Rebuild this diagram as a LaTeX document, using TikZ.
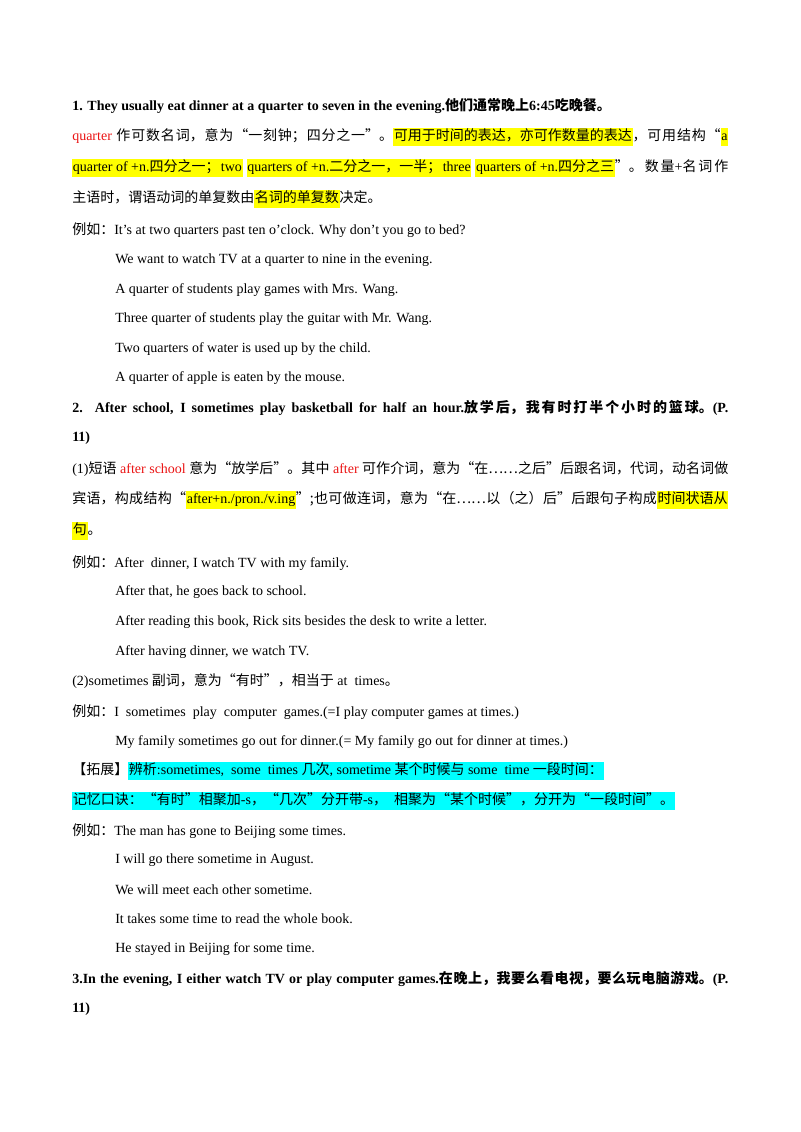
\documentclass[tikz,border=0pt]{standalone}
\usepackage{fontspec}
\usepackage{xcolor}
\setmainfont{Liberation Serif}
\newfontfamily\cjk{Noto Sans CJK SC}
\usetikzlibrary{positioning}
\definecolor{notered}{RGB}{235,20,20}
\definecolor{markyellow}{RGB}{255,255,0}
\definecolor{markcyan}{RGB}{0,255,255}
\XeTeXlinebreaklocale "zh"
\XeTeXlinebreakskip=0pt plus 1pt
\newcommand{\zh}[1]{{\cjk #1}}
\newcommand{\rd}[1]{\textcolor{notered}{#1}}
\newcommand{\hl}[1]{{\setlength\fboxsep{0.5pt}\colorbox{markyellow}{\strut #1}}}
\newcommand{\cy}[1]{{\setlength\fboxsep{0.5pt}\colorbox{markcyan}{\strut #1}}}

\begin{document}
\begin{tikzpicture}[x=0.75pt, y=-0.75pt,
    line/.style={anchor=west, inner sep=0pt, font=\fontsize{10.5}{13}\selectfont},
    fullline/.style={line, text width=492pt, align=justify, execute at begin node={\parfillskip=0pt}}
]
\useasboundingbox[fill=white] (0,0) rectangle (800,1132);

% Point 1
\node[line, font=\fontsize{10.5}{13}\selectfont\bfseries] (p1) at (72,106) {1. They usually eat dinner at a quarter to seven in the evening.\zh{他们通常晚上}6:45\zh{吃晚餐。}};
\node[fullline] (q1) at (72,137) {\rd{quarter} \zh{作可数名词，意为“一刻钟；四分之一”。}\hl{\zh{可用于时间的表达，亦可作数量的表达}}\zh{，可用结构“}\hl{a}};
\node[fullline] (q2) at (72,168) {\hl{quarter of +n.\zh{四分之一；}}\hl{two}\hspace{3pt}\hl{quarters of +n.\zh{二分之一，一半；}}\hl{three}\hspace{3pt}\hl{quarters of +n.\zh{四分之三}}\zh{”。数量}+\zh{名词作}};
\node[line] (q3) at (72,199) {\zh{主语时，谓语动词的单复数由}\hl{\zh{名词的单复数}}\zh{决定。}};
\node[line] (e1) at (72,230) {\zh{例如：}It’s at two quarters past ten o’clock. Why don’t you go to bed?};
\node[line] (e2) at (115,260) {We want to watch TV at a quarter to nine in the evening.};
\node[line] (e3) at (115,290) {A quarter of students play games with Mrs. Wang.};
\node[line] (e4) at (115,319) {Three quarter of students play the guitar with Mr. Wang.};
\node[line] (e5) at (115,349) {Two quarters of water is used up by the child.};
\node[line] (e6) at (115,378) {A quarter of apple is eaten by the mouse.};

% Point 2
\node[fullline, font=\fontsize{10.5}{13}\selectfont\bfseries] (p2) at (72,408) {2. After school, I sometimes play basketball for half an hour.\zh{放学后，我有时打半个小时的篮球。}(P.};
\node[line, font=\fontsize{10.5}{13}\selectfont\bfseries] (p2b) at (72,438) {11)};
\node[fullline] (a1) at (72,469) {(1)\zh{短语} \rd{after school} \zh{意为“放学后”。其中} \rd{after} \zh{可作介词，意为“在……之后”后跟名词，代词，动名词做}};
\node[fullline] (a2) at (72,500) {\zh{宾语，构成结构“}\hl{after+n./pron./v.ing}\zh{”}\zh{;也可做连词，意为“在……以（之）后”后跟句子构成}\hl{\zh{时间状语从}}};
\node[line] (a3) at (72,531) {\hl{\zh{句}}\zh{。}};
\node[line] (f1) at (72,563) {\zh{例如：}After\ \ dinner, I watch TV with my family.};
\node[line] (f2) at (115,592) {After that, he goes back to school.};
\node[line] (f3) at (115,622) {After reading this book, Rick sits besides the desk to write a letter.};
\node[line] (f4) at (115,652) {After having dinner, we watch TV.};
\node[line] (s1) at (72,681) {(2)sometimes \zh{副词，意为“有时”，相当于} at\ \ times\zh{。}};
\node[line] (g1) at (72,712) {\zh{例如：}I\ \ sometimes\ \ play\ \ computer\ \ games.(=I play computer games at times.)};
\node[line] (g2) at (115,742) {My family sometimes go out for dinner.(= My family go out for dinner at times.)};
\node[line] (x1) at (72,771) {\zh{【拓展】}\cy{\zh{辨析}:sometimes,\ \ some\ \ times \zh{几次}, sometime \zh{某个时候与} some\ \ time \zh{一段时间：}}};
\node[line] (x2) at (72,801) {\cy{\zh{记忆口诀：“有时”相聚加}-s\zh{，“几次”分开带}-s\zh{，}\ \ \zh{相聚为“某个时候”，分开为“一段时间”。}}};
\node[line] (h1) at (72,831) {\zh{例如：}The man has gone to Beijing some times.};
\node[line] (h2) at (115,860) {I will go there sometime in August.};
\node[line] (h3) at (115,890) {We will meet each other sometime.};
\node[line] (h4) at (115,919) {It takes some time to read the whole book.};
\node[line] (h5) at (115,949) {He stayed in Beijing for some time.};

% Point 3
\node[fullline, font=\fontsize{10.5}{13}\selectfont\bfseries] (p3) at (72,979) {3.In the evening, I either watch TV or play computer games.\zh{在晚上，我要么看电视，要么玩电脑游戏。}(P.};
\node[line, font=\fontsize{10.5}{13}\selectfont\bfseries] (p3b) at (72,1009) {11)};

\end{tikzpicture}
\end{document}
